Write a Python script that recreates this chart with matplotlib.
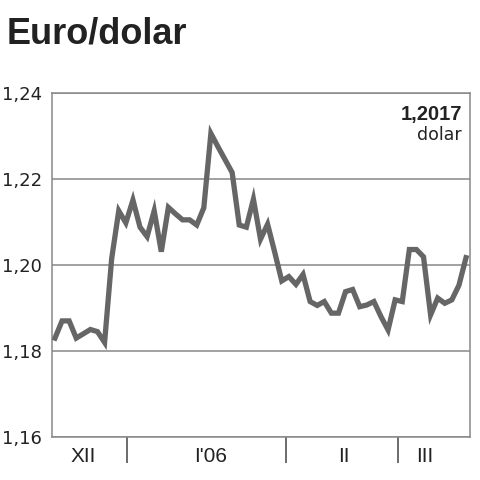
import numpy as np
import matplotlib
matplotlib.use("Agg")
from matplotlib import pyplot as plt

# daily euro/dollar rate
rate = [1.1830, 1.1870, 1.1870, 1.1830, 1.1840, 1.1850, 1.1845, 1.1820, 1.2015, 1.2126,
        1.2098, 1.2151, 1.2088, 1.2066, 1.2126, 1.2031, 1.2134, 1.2119, 1.2105, 1.2105,
        1.2093, 1.2133, 1.2306, 1.2275, 1.2245, 1.2215, 1.2093, 1.2088, 1.2153, 1.2060,
        1.2095, 1.2030, 1.1963, 1.1973, 1.1955, 1.1978, 1.1915, 1.1906, 1.1915, 1.1888,
        1.1888, 1.1938, 1.1943, 1.1903, 1.1907, 1.1915, 1.1880, 1.1849, 1.1919, 1.1915,
        1.2036, 1.2036, 1.2019, 1.1884, 1.1923, 1.1911, 1.1919, 1.1953, 1.2017]
month_labels = ["XII", "I'06", "II", "III"]
month_label_pos = [3.95, 21.9, 40.8, 52.2]
month_breaks = [10.16, 32.6, 48.4]
y_ticks = [1.16, 1.18, 1.20, 1.22, 1.24]
last_value = "1,2017"

fig = plt.figure(figsize=(4.8, 4.8), dpi=100)
ax = fig.add_axes([52/480, 43/480, 418/480, 344/480])

x = np.arange(len(rate))
ax.plot(x, rate, color="#666666", lw=3.8, solid_joinstyle="miter", zorder=3)

ax.set_xlim(-0.42, 58.56)
ax.set_ylim(1.16, 1.24)
ax.set_yticks(y_ticks)
ax.set_yticklabels([("%.2f" % v).replace(".", ",") for v in y_ticks],
                   fontsize=13, color="#222222", family="DejaVu Sans", ha="left")
ax.tick_params(axis="y", length=0, pad=36)
ax.yaxis.grid(True, color="#888888", lw=1.1)

ax.set_xticks(month_label_pos)
ax.set_xticklabels(month_labels, fontsize=15, color="#222222", family="Liberation Sans")
ax.tick_params(axis="x", which="major", length=0, pad=7)
ax.set_xticks(month_breaks, minor=True)
ax.tick_params(axis="x", which="minor", length=19, width=1.1, color="#444444", direction="out")

for s in ax.spines.values():
    s.set_color("#888888")
    s.set_linewidth(1.1)

ax.text(0.981, 0.965, last_value, transform=ax.transAxes, ha="right", va="top",
        fontsize=14.5, fontweight="bold", color="#222222", family="Liberation Sans")
ax.text(0.981, 0.903, "dolar", transform=ax.transAxes, ha="right", va="top",
        fontsize=12.5, color="#222222", family="DejaVu Sans")

fig.text(7/480, 1 - 43/480, "Euro/dolar", ha="left", va="baseline",
         fontsize=26, fontweight="bold", color="#222222", family="Liberation Sans")

fig.savefig("out.png", dpi=100)
